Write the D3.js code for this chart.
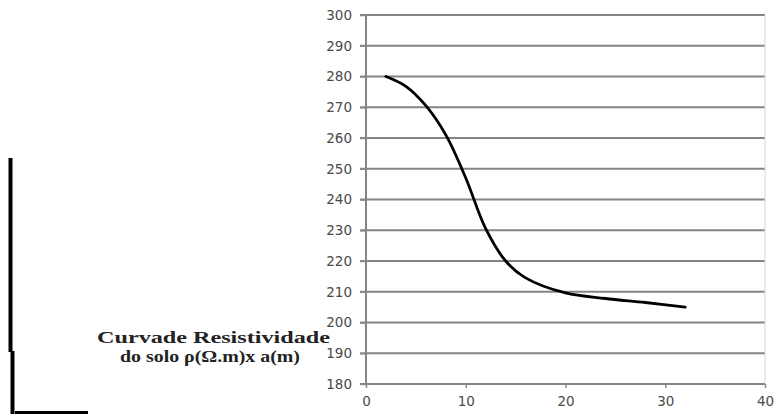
<!DOCTYPE html>
<html>
<head>
<meta charset="utf-8">
<script src="https://cdn.jsdelivr.net/npm/d3@7"></script>
<style>
  body { margin: 0; background: #fff; }
  svg { display: block; }
  .tick text { font-family: "DejaVu Sans", Verdana, sans-serif; font-size: 13.5px; fill: #4a4a4a; }
  .tick line { stroke: #8a8a8a; stroke-width: 1.5; }
  .lbl { font-family: "Liberation Serif", "Times New Roman", serif; font-weight: bold; font-size: 16px; fill: #222; }
</style>
</head>
<body>
<svg id="chart" width="776" height="414"></svg>
<script>
// spacing a (m)
var spacing = [2, 4, 6, 8, 10, 12, 14, 16, 20, 24, 28, 32];
// resistivity (ohm.m)
var resist = [280, 276.8, 270.5, 261, 247, 230.5, 220, 214.5, 209.6, 207.8, 206.5, 205];
var xTicks = [0, 10, 20, 30, 40];
var yTicks = [180, 190, 200, 210, 220, 230, 240, 250, 260, 270, 280, 290, 300];
var labelLines = ["Curvade Resistividade", "do solo \u03c1(\u03a9.m)x a(m)"];

var svg = d3.select("#chart");

var x = d3.scaleLinear().domain([0, 40]).range([366, 765]);
var y = d3.scaleLinear().domain([180, 300]).range([384, 15]);

// horizontal grid
svg.append("g")
    .selectAll("line")
    .data(yTicks)
    .join("line")
    .attr("x1", x(0) - 6)
    .attr("x2", x(40))
    .attr("y1", function (d) { return y(d); })
    .attr("y2", function (d) { return y(d); })
    .attr("stroke", "#858585")
    .attr("stroke-width", 2);

// faint right border
svg.append("line")
    .attr("x1", x(40)).attr("x2", x(40))
    .attr("y1", y(300)).attr("y2", y(180))
    .attr("stroke", "#d8d8d8")
    .attr("stroke-width", 1);

var yAxis = d3.axisLeft(y)
    .tickValues(yTicks)
    .tickSize(6)
    .tickPadding(8);
svg.append("g")
    .attr("transform", "translate(" + x(0) + ",0)")
    .call(yAxis)
    .call(function (g) { g.select(".domain").remove(); });

var xAxis = d3.axisBottom(x)
    .tickValues(xTicks)
    .tickSize(4)
    .tickPadding(8);
svg.append("g")
    .attr("transform", "translate(0," + y(180) + ")")
    .call(xAxis)
    .call(function (g) { g.select(".domain").remove(); });

// axis lines
svg.append("line")
    .attr("x1", x(0)).attr("x2", x(0))
    .attr("y1", y(300)).attr("y2", y(180))
    .attr("stroke", "#858585").attr("stroke-width", 2);
svg.append("line")
    .attr("x1", x(0)).attr("x2", x(40))
    .attr("y1", y(180)).attr("y2", y(180))
    .attr("stroke", "#858585").attr("stroke-width", 2);

// curve
var pts = spacing.map(function (d, i) { return [d, resist[i]]; });
var line = d3.line()
    .x(function (d) { return x(d[0]); })
    .y(function (d) { return y(d[1]); })
    .curve(d3.curveCatmullRom.alpha(0.5));
svg.append("path")
    .datum(pts)
    .attr("d", line)
    .attr("fill", "none")
    .attr("stroke", "#000")
    .attr("stroke-width", 2.8)
    .attr("stroke-linecap", "round");

// label at the left
svg.append("text")
    .attr("class", "lbl")
    .attr("x", 97).attr("y", 343)
    .attr("textLength", 233)
    .attr("lengthAdjust", "spacingAndGlyphs")
    .text(labelLines[0]);
svg.append("text")
    .attr("class", "lbl")
    .attr("x", 120).attr("y", 362)
    .attr("textLength", 180)
    .attr("lengthAdjust", "spacingAndGlyphs")
    .text(labelLines[1]);

// black bracket lines on the far left
svg.append("line")
    .attr("x1", 10.5).attr("x2", 10.5).attr("y1", 158).attr("y2", 352)
    .attr("stroke", "#000").attr("stroke-width", 4);
svg.append("line")
    .attr("x1", 12.5).attr("x2", 12.5).attr("y1", 351).attr("y2", 414)
    .attr("stroke", "#000").attr("stroke-width", 4);
svg.append("line")
    .attr("x1", 15).attr("x2", 88).attr("y1", 412.5).attr("y2", 412.5)
    .attr("stroke", "#000").attr("stroke-width", 3);
</script>
</body>
</html>
